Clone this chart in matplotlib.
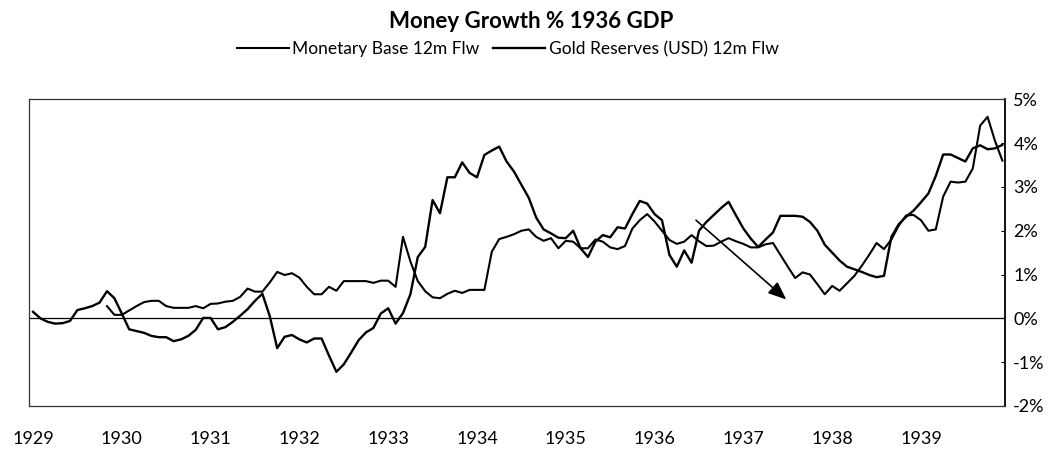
import numpy as np
import matplotlib

matplotlib.use("Agg")
import matplotlib.pyplot as plt

plt.rcParams["font.family"] = ["Lato", "DejaVu Sans"]

YEARS = ["1929", "1930", "1931", "1932", "1933", "1934", "1935", "1936", "1937", "1938", "1939"]
Y_TICKS = [-2, -1, 0, 1, 2, 3, 4, 5]

# monthly 12m flow as % of 1936 GDP, Jan 1929 .. Dec 1939
gold = [
    0.15, 0.00, -0.08, -0.12, -0.11, -0.06, 0.19, 0.23, 0.28, 0.36, 0.62, 0.46,
    0.11, -0.25, -0.29, -0.33, -0.40, -0.43, -0.43, -0.52, -0.48, -0.40, -0.26, 0.01,
    0.01, -0.25, -0.20, -0.08, 0.06, 0.21, 0.40, 0.56, 0.05, -0.68, -0.42, -0.38,
    -0.48, -0.55, -0.46, -0.46, -0.85, -1.22, -1.05, -0.78, -0.50, -0.32, -0.22, 0.11,
    0.23, -0.12, 0.12, 0.55, 1.40, 1.63, 2.70, 2.40, 3.22, 3.22, 3.56, 3.32,
    3.22, 3.73, 3.83, 3.92, 3.58, 3.35, 3.05, 2.75, 2.30, 2.03, 1.94, 1.84,
    1.83, 2.00, 1.60, 1.40, 1.75, 1.90, 1.85, 2.08, 2.05, 2.38, 2.68, 2.62,
    2.38, 2.24, 1.45, 1.18, 1.55, 1.27, 2.00, 2.20, 2.36, 2.52, 2.66, 2.35,
    2.05, 1.82, 1.63, 1.80, 1.96, 2.34, 2.34, 2.34, 2.32, 2.20, 2.00, 1.68,
    1.50, 1.32, 1.18, 1.12, 1.06, 0.99, 0.94, 0.97, 1.86, 2.15, 2.32, 2.46,
    2.65, 2.85, 3.25, 3.74, 3.74, 3.66, 3.58, 3.88, 3.95, 3.86, 3.88, 3.96,
]
# monetary base starts Nov 1929
base_start = 10
base = [
    0.28, 0.08,
    0.08, 0.18, 0.28, 0.37, 0.40, 0.40, 0.28, 0.24, 0.24, 0.24, 0.28, 0.23,
    0.33, 0.34, 0.38, 0.40, 0.49, 0.68, 0.61, 0.61, 0.82, 1.06, 0.99, 1.03,
    0.93, 0.72, 0.55, 0.55, 0.72, 0.63, 0.85, 0.85, 0.85, 0.85, 0.81, 0.86,
    0.86, 0.72, 1.86, 1.30, 0.85, 0.62, 0.48, 0.46, 0.56, 0.63, 0.58, 0.65,
    0.65, 0.65, 1.52, 1.81, 1.86, 1.92, 2.00, 2.03, 1.86, 1.77, 1.83, 1.60,
    1.77, 1.75, 1.60, 1.60, 1.80, 1.75, 1.62, 1.58, 1.65, 2.05, 2.24, 2.38,
    2.21, 2.00, 1.79, 1.70, 1.75, 1.90, 1.76, 1.65, 1.66, 1.75, 1.83, 1.76,
    1.70, 1.62, 1.62, 1.69, 1.72, 1.45, 1.18, 0.92, 1.05, 1.00, 0.78, 0.55,
    0.74, 0.63, 0.80, 0.97, 1.20, 1.45, 1.72, 1.58, 1.80, 2.12, 2.35, 2.36,
    2.24, 2.00, 2.03, 2.78, 3.12, 3.10, 3.12, 3.42, 4.40, 4.60, 4.05, 3.60,
]
# arrow (month index, %)
arrow_from = (89.6, 2.24)
arrow_to = (101.8, 0.43)

x_gold = np.arange(len(gold))
x_base = np.arange(base_start, base_start + len(base))

fig = plt.figure(figsize=(10.62, 4.53), dpi=100)
ax = fig.add_axes([0.0273, 0.1038, 0.919, 0.677])

l1, = ax.plot(x_base, base, color="black", lw=1.5, label="Monetary Base 12m Flw")
l2, = ax.plot(x_gold, gold, color="black", lw=1.7, label="Gold Reserves (USD) 12m Flw")
ax.axhline(0, color="black", lw=0.9)

ax.annotate("", xy=arrow_to, xytext=arrow_from,
            arrowprops=dict(arrowstyle="-|>,head_length=1.1,head_width=0.45",
                            color="black", lw=1.2, shrinkA=0, shrinkB=0))

ax.set_xlim(-0.54, 131.35)
ax.set_ylim(-2, 5)
ax.set_xticks(np.arange(0, 121, 12))
ax.set_xticklabels(YEARS, fontsize=13)
ax.tick_params(axis="x", length=0, pad=18)
ax.yaxis.tick_right()
ax.set_yticks(Y_TICKS)
ax.set_yticklabels([f"{v}%" for v in Y_TICKS], fontsize=13)
ax.tick_params(axis="y", direction="in", length=3, width=0.8, pad=6)
for s in ["left", "top", "bottom"]:
    ax.spines[s].set_linewidth(0.9)
    ax.spines[s].set_color("#333333")
ax.spines["right"].set_linewidth(1.3)

fig.text(0.5, 0.953, "Money Growth % 1936 GDP", ha="center", va="center",
         fontsize=16, fontweight="bold")
fig.legend(handles=[l1, l2], loc="center", bbox_to_anchor=(0.478, 0.892), ncol=2,
           frameon=False, fontsize=12.5, handlelength=3.0, handletextpad=0.2,
           columnspacing=0.8)

fig.savefig("out.png", dpi=100)
